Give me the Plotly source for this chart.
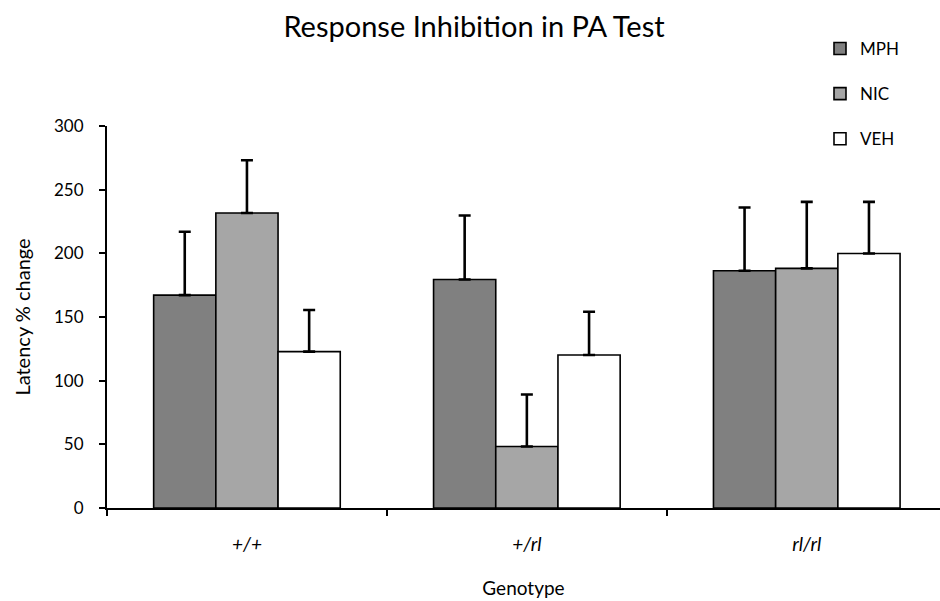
import plotly.graph_objects as go

# Genotype groups and treatment series
genotypes = ["+/+", "+/rl", "rl/rl"]
treatments = ["MPH", "NIC", "VEH"]

mph_mean = [167.2, 179.5, 186.3]
mph_err = [49.7, 50.2, 49.7]
nic_mean = [231.7, 48.3, 188.2]
nic_err = [41.4, 40.8, 52.2]
veh_mean = [122.8, 120.2, 199.9]
veh_err = [32.7, 33.9, 40.5]

y_ticks = [0, 50, 100, 150, 200, 250, 300]

means = [mph_mean, nic_mean, veh_mean]
errors = [mph_err, nic_err, veh_err]
fills = ["#808080", "#a6a6a6", "#ffffff"]

FONT = "Lato, Calibri, Carlito, sans-serif"

fig = go.Figure()
for name, m, e, c in zip(treatments, means, errors, fills):
    fig.add_trace(go.Bar(
        name=name,
        x=genotypes,
        y=m,
        legendgroup=name,
        marker=dict(color=c, line=dict(color="#000000", width=1.6)),
        error_y=dict(type="data", symmetric=False, array=e,
                     arrayminus=[0] * len(e),
                     color="#000000", thickness=2.6, width=6),
    ))

fig.update_layout(
    width=940, height=601,
    paper_bgcolor="white", plot_bgcolor="white",
    barmode="group", bargap=1/3, bargroupgap=0,
    margin=dict(l=107, r=0, t=126, b=93, autoexpand=False),
    font=dict(family=FONT, color="#000000", size=17),
    title=dict(text="Response Inhibition in PA Test",
               font=dict(family=FONT, size=29, color="#000000"),
               x=474/940, xanchor="center", xref="container",
               y=1 - 27/601, yanchor="middle", yref="container"),
    legend=dict(xref="container", yref="container",
                x=820/940, xanchor="left", y=1 - 31/601, yanchor="top",
                font=dict(family=FONT, size=17, color="#000000"),
                tracegroupgap=20, bgcolor="rgba(0,0,0,0)",
                itemwidth=30),
    showlegend=True,
)

fig.update_xaxes(
    type="category",
    range=[-0.5, 2.476],
    showline=True, linecolor="#000000", linewidth=2,
    ticks="outside", ticklen=6, tickwidth=1.5, tickcolor="#000000",
    tickson="boundaries",
    tickfont=dict(family=FONT, size=19, style="italic"),
    ticklabelstandoff=18,
    showgrid=False, zeroline=False,
    title=dict(text="Genotype", font=dict(family=FONT, size=19), standoff=28),
)

fig.update_yaxes(
    range=[0, 300],
    tickvals=y_ticks,
    showline=True, linecolor="#000000", linewidth=2,
    ticks="outside", ticklen=6, tickwidth=1.5, tickcolor="#000000",
    tickfont=dict(family=FONT, size=17),
    ticklabelstandoff=12,
    showgrid=False, zeroline=False,
    title=dict(text="Latency % change", font=dict(family=FONT, size=20), standoff=18),
)

fig.write_html("out.html")
